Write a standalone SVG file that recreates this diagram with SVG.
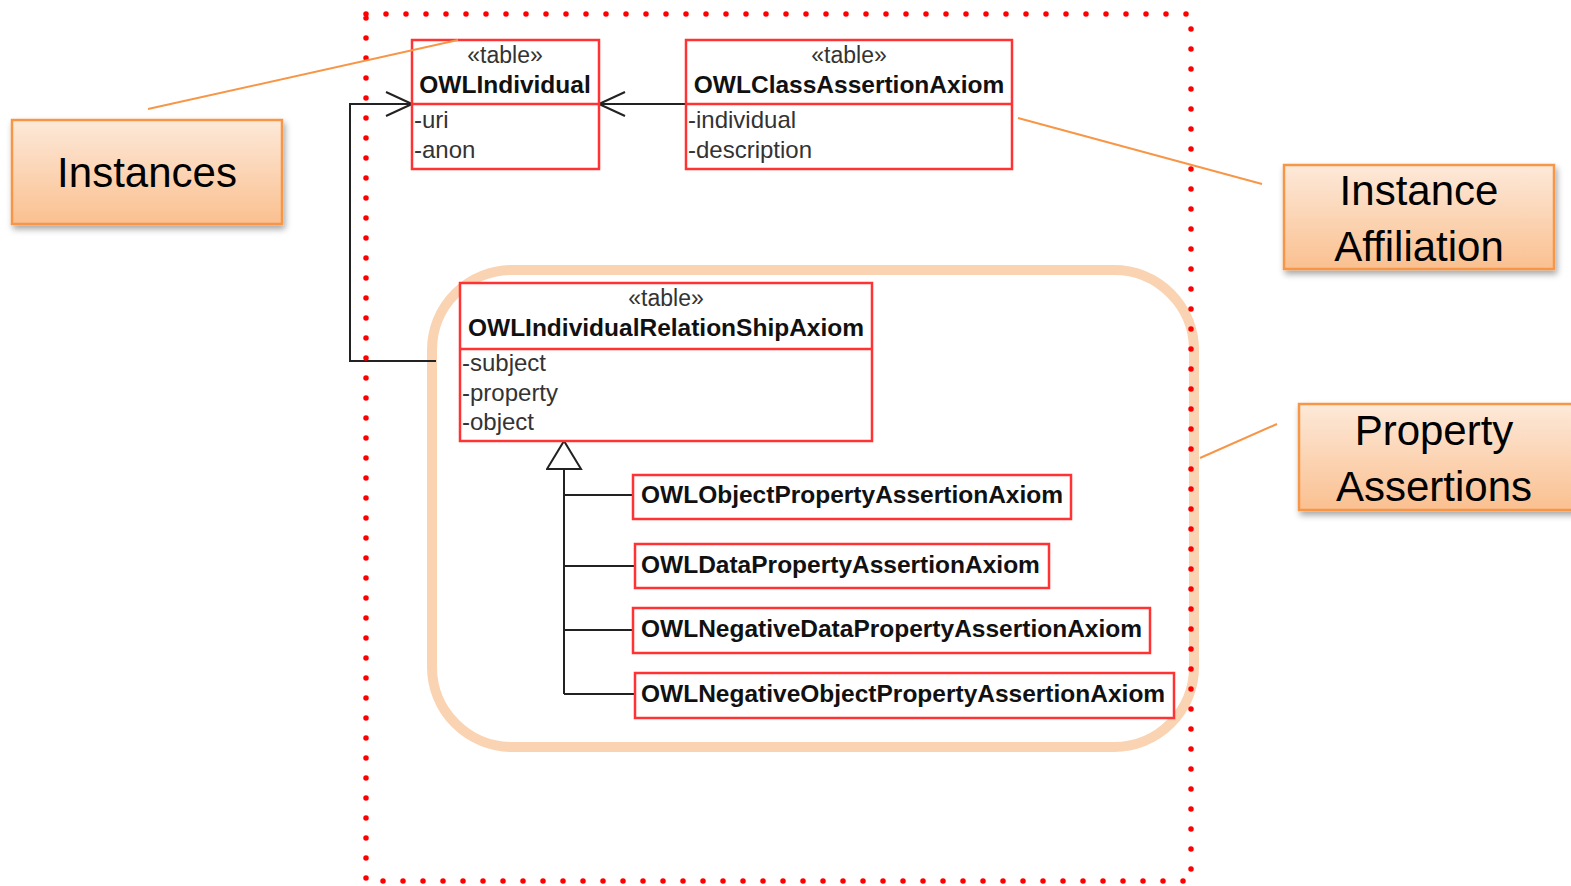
<svg xmlns="http://www.w3.org/2000/svg" width="1571" height="886" viewBox="0 0 1571 886">
<defs>
<linearGradient id="og" x1="0" y1="0" x2="0" y2="1">
<stop offset="0" stop-color="#fde9d9"/>
<stop offset="1" stop-color="#fac090"/>
</linearGradient>
<filter id="sh" x="-10%" y="-10%" width="130%" height="140%">
<feDropShadow dx="2" dy="4" stdDeviation="3" flood-color="#000" flood-opacity="0.35"/>
</filter>
<marker id="open" markerWidth="30" markerHeight="30" refX="28" refY="14" orient="auto" markerUnits="userSpaceOnUse">
<path d="M2,2 L28,14 L2,26" fill="none" stroke="#222" stroke-width="2"/>
</marker>
<marker id="gen" markerWidth="40" markerHeight="40" refX="30" refY="18" orient="auto" markerUnits="userSpaceOnUse">
<path d="M2,1 L30,18 L2,35 Z" fill="#fff" stroke="#222" stroke-width="2"/>
</marker>
</defs>
<style>
.box{fill:#fff;stroke:#f33;stroke-width:2.5}
.div{stroke:#f33;stroke-width:2.5}
.st{font-family:"Liberation Sans",Arial,sans-serif;font-size:23px;fill:#333;text-anchor:middle}
.nm{font-family:"Liberation Sans",Arial,sans-serif;font-size:24.5px;font-weight:bold;fill:#111;text-anchor:middle}
.at{font-family:"Liberation Sans",Arial,sans-serif;font-size:24px;fill:#333}
.sub{font-family:"Liberation Sans",Arial,sans-serif;font-size:24.5px;font-weight:bold;fill:#111}
.conn{fill:none;stroke:#222;stroke-width:2}
.call{fill:url(#og);stroke:#f79646;stroke-width:2.5;filter:url(#sh)}
.ct{font-family:"Liberation Sans",Arial,sans-serif;font-size:42px;fill:#000;text-anchor:middle}
.cl{stroke:#f79646;stroke-width:2;fill:none}
</style>
<rect width="1571" height="886" fill="#fff"/>

<g id="group-property-assertions">
<rect x="432" y="270" width="762" height="477" rx="80" ry="80" fill="none" stroke="#fad3b2" stroke-width="10"/>
</g>

<g id="connectors">
<polyline class="conn" points="436,361 350,361 350,104 412,104" marker-end="url(#open)"/>
<line class="conn" x1="686" y1="104" x2="599" y2="104" marker-end="url(#open)"/>
<line class="conn" x1="564" y1="694" x2="564" y2="441" marker-end="url(#gen)"/>
<line class="conn" x1="564" y1="495" x2="633" y2="495"/>
<line class="conn" x1="564" y1="566" x2="635" y2="566"/>
<line class="conn" x1="564" y1="630" x2="633" y2="630"/>
<line class="conn" x1="564" y1="694" x2="635" y2="694"/>
</g>

<g id="OWLIndividual">
<rect class="box" x="412" y="40" width="187" height="129"/>
<line class="div" x1="412" y1="104" x2="599" y2="104"/>
<text class="st" x="505" y="63">«table»</text>
<text class="nm" x="505" y="93">OWLIndividual</text>
<text class="at" x="414" y="128">-uri</text>
<text class="at" x="414" y="158">-anon</text>
</g>

<g id="OWLClassAssertionAxiom">
<rect class="box" x="686" y="40" width="326" height="129"/>
<line class="div" x1="686" y1="104" x2="1012" y2="104"/>
<text class="st" x="849" y="63">«table»</text>
<text class="nm" x="849" y="93">OWLClassAssertionAxiom</text>
<text class="at" x="688" y="128">-individual</text>
<text class="at" x="688" y="158">-description</text>
</g>

<g id="OWLIndividualRelationShipAxiom">
<rect class="box" x="460" y="283" width="412" height="158"/>
<line class="div" x1="460" y1="349" x2="872" y2="349"/>
<text class="st" x="666" y="306">«table»</text>
<text class="nm" x="666" y="336">OWLIndividualRelationShipAxiom</text>
<text class="at" x="462" y="371">-subject</text>
<text class="at" x="462" y="401">-property</text>
<text class="at" x="462" y="430">-object</text>
</g>

<g id="OWLObjectPropertyAssertionAxiom">
<rect class="box" x="633" y="475" width="438" height="44"/>
<text class="sub" x="641" y="503">OWLObjectPropertyAssertionAxiom</text>
</g>
<g id="OWLDataPropertyAssertionAxiom">
<rect class="box" x="635" y="544" width="414" height="44"/>
<text class="sub" x="641" y="573">OWLDataPropertyAssertionAxiom</text>
</g>
<g id="OWLNegativeDataPropertyAssertionAxiom">
<rect class="box" x="633" y="608" width="517" height="45"/>
<text class="sub" x="641" y="637">OWLNegativeDataPropertyAssertionAxiom</text>
</g>
<g id="OWLNegativeObjectPropertyAssertionAxiom">
<rect class="box" x="635" y="673" width="539" height="45"/>
<text class="sub" x="641" y="702">OWLNegativeObjectPropertyAssertionAxiom</text>
</g>

<g id="boundary">
<rect x="366" y="14" width="825" height="867" fill="none" stroke="#f00" stroke-width="5.5" stroke-linecap="round" stroke-dasharray="0 20"/>
</g>

<g id="callout-lines">
<line class="cl" x1="148" y1="109" x2="458" y2="40"/>
<line class="cl" x1="1018" y1="118" x2="1262" y2="184"/>
<line class="cl" x1="1200" y1="458" x2="1277" y2="424"/>
</g>

<g id="Instances">
<rect class="call" x="12" y="120" width="270" height="104"/>
<text class="ct" x="147" y="187">Instances</text>
</g>
<g id="InstanceAffiliation">
<rect class="call" x="1284" y="165" width="270" height="104"/>
<text class="ct" x="1419" y="205">Instance</text>
<text class="ct" x="1419" y="261">Affiliation</text>
</g>
<g id="PropertyAssertions">
<rect class="call" x="1299" y="404" width="276" height="106"/>
<text class="ct" x="1434" y="445">Property</text>
<text class="ct" x="1434" y="501">Assertions</text>
</g>
</svg>
